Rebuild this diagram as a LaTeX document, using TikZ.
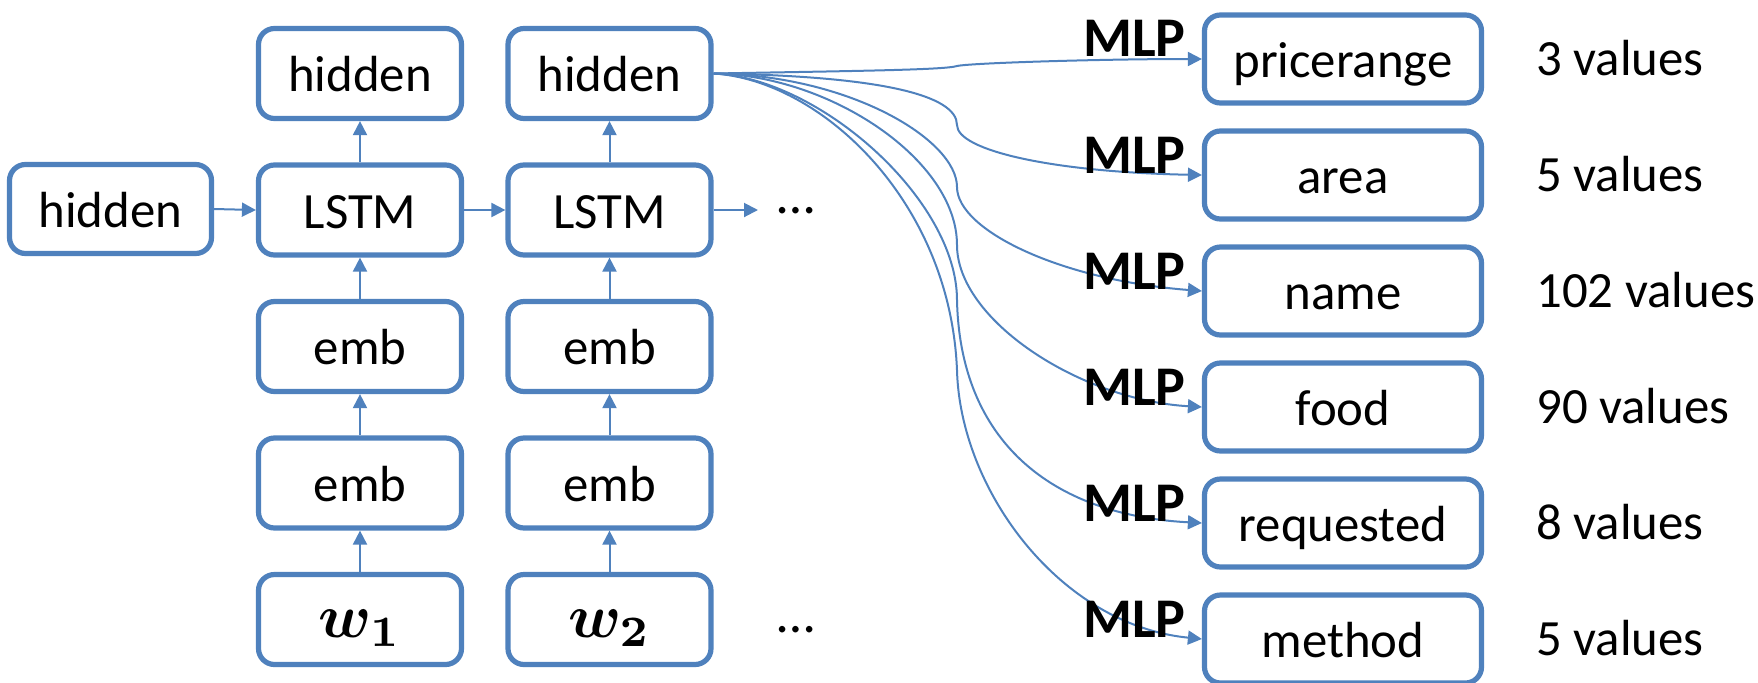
\documentclass[tikz,border=0pt]{standalone}
\usepackage{fontspec}
\setmainfont{Carlito}
\usepackage{bm}
\usepackage{graphicx}
\usetikzlibrary{arrows.meta}
\definecolor{bblue}{RGB}{79,129,189}
\newcommand{\wlab}[1]{\scalebox{3.1}{\fontsize{10}{12}\selectfont$\bm{w}_{\bm{#1}}$}}
\begin{document}
\begin{tikzpicture}[x=0.5pt,y=-0.5pt,
  box/.style={draw=bblue,line width=2.6pt,rounded corners=8pt,minimum width=101.5pt,minimum height=45pt,inner sep=0pt,text height=22pt,text depth=4pt,font=\fontsize{25.4}{30}\selectfont},
  rbox/.style={box,minimum width=138.5pt,minimum height=44pt},
  conn/.style={draw=bblue,line width=1pt,-{Triangle[length=7pt,width=7pt]}},
  mlp/.style={anchor=base east,font=\fontsize{28}{32}\selectfont\bfseries,inner sep=0pt},
  val/.style={anchor=base west,font=\fontsize{25.4}{30}\selectfont,inner sep=0pt},
  dotsnode/.style={anchor=base,font=\fontsize{27}{30}\selectfont,inner sep=0pt}]
\useasboundingbox (0,0) rectangle (1758,682);
% left initial hidden
\node[box,minimum width=101pt,minimum height=44.5pt] (h0) at (110.5,209) {hidden};
% column 1
\node[box] (t1) at (360,73.5) {hidden};
\node[box] (l1) at (360,210) {LSTM};
\node[box] (ea1) at (360,346.5) {emb};
\node[box] (eb1) at (360,483) {emb};
\node[box] (w1) at (360,619.5) {\wlab{1}};
% column 2
\node[box] (t2) at (609.5,73.5) {hidden};
\node[box] (l2) at (609.5,210) {LSTM};
\node[box] (ea2) at (609.5,346.5) {emb};
\node[box] (eb2) at (609.5,483) {emb};
\node[box] (w2) at (609.5,619.5) {\wlab{2}};
% dots
\node[dotsnode] (dt) at (796,213) {\dots};
\node[dotsnode] (db) at (796,632) {\dots};
\coordinate (dtin) at (758,210);
% vertical connectors
\foreach \c in {1,2}{
  \draw[conn] (w\c.north) -- (eb\c.south);
  \draw[conn] (eb\c.north) -- (ea\c.south);
  \draw[conn] (ea\c.north) -- (l\c.south);
  \draw[conn] (l\c.north) -- (t\c.south);
}
\draw[conn] (h0.east) -- (l1.west);
\draw[conn] (l1.east) -- (l2.west);
\draw[conn] (l2.east) -- (dtin);
% right column
\node[rbox] (pr) at (1343,59) {pricerange};
\node[rbox] (ar) at (1343,175) {area};
\node[rbox] (nm) at (1343,291) {name};
\node[rbox] (fd) at (1343,407) {food};
\node[rbox] (rq) at (1343,523) {requested};
\node[rbox] (me) at (1343,639) {method};
% values
\node[val] (vpr) at (1536,75.5) {3 values};
\node[val] (var) at (1536,191.5) {5 values};
\node[val] (vnm) at (1536,307.5) {102 values};
\node[val] (vfd) at (1536,423.5) {90 values};
\node[val] (vrq) at (1536,539.5) {8 values};
\node[val] (vme) at (1536,655.5) {5 values};
% curves
\draw[conn] (t2.east) .. controls (850,71) and (945,70) .. (957,66) .. controls (970,63) and (1100,59) .. (pr.west);
\draw[conn] (t2.east) .. controls (880,76) and (957,95) .. (957,125) .. controls (957,150) and (1050,172) .. (ar.west);
\draw[conn] (t2.east) .. controls (850,75) and (957,140) .. (957,187) .. controls (957,230) and (1060,280) .. (nm.west);
\draw[conn] (t2.east) .. controls (830,75) and (957,160) .. (957,245) .. controls (957,320) and (1080,400) .. (fd.west);
\draw[conn] (t2.east) .. controls (820,78) and (957,200) .. (957,300) .. controls (960,440) and (1050,515) .. (rq.west);
\draw[conn] (t2.east) .. controls (820,80) and (950,200) .. (957,370) .. controls (960,490) and (1060,625) .. (me.west);
% MLP labels
\node[mlp] (m1) at (1186,56) {MLP};
\node[mlp] (m2) at (1186,173) {MLP};
\node[mlp] (m3) at (1186,289) {MLP};
\node[mlp] (m4) at (1186,405) {MLP};
\node[mlp] (m5) at (1186,521) {MLP};
\node[mlp] (m6) at (1186,637) {MLP};
\end{tikzpicture}
\end{document}
